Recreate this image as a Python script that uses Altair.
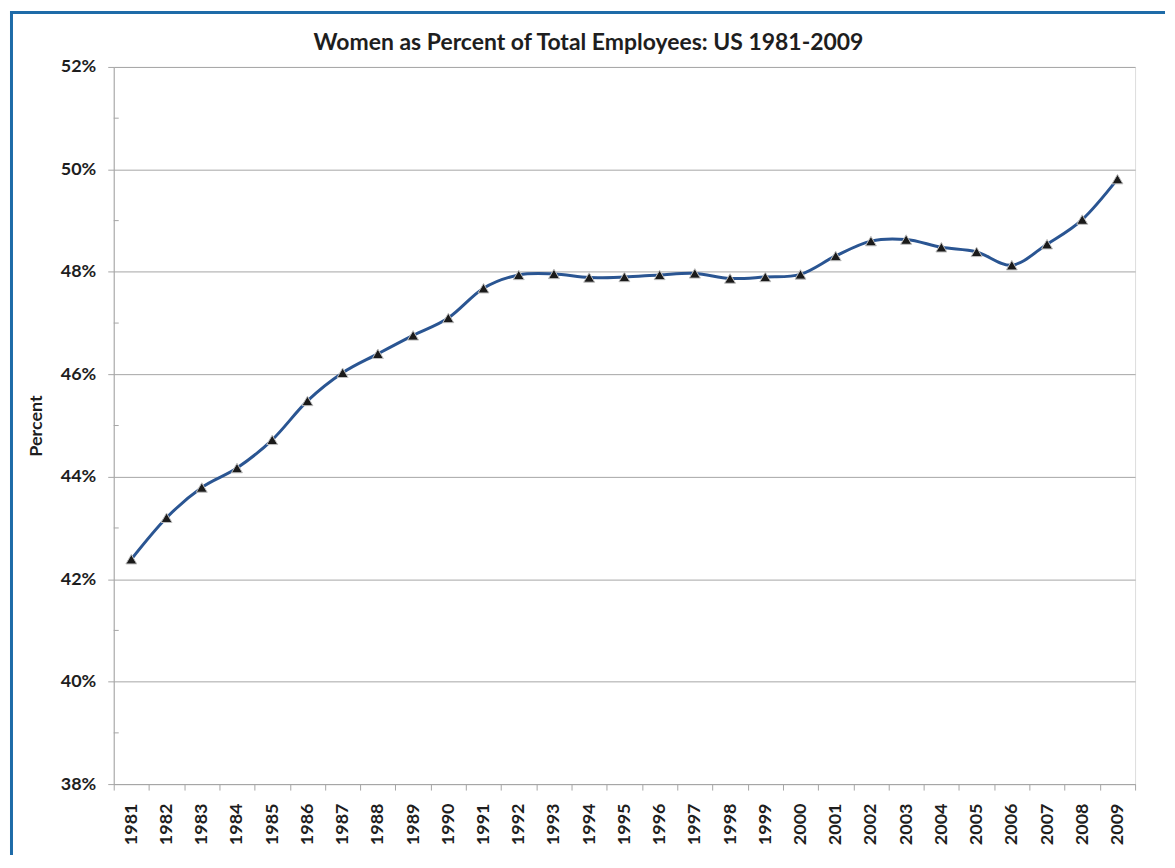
import altair as alt
import pandas as pd

years = [str(y) for y in range(1981, 2010)]
women_pct = [42.39, 43.20, 43.79, 44.17, 44.72, 45.48, 46.03, 46.40, 46.76, 47.10,
             47.68, 47.94, 47.96, 47.89, 47.90, 47.94, 47.97, 47.87, 47.90, 47.95,
             48.31, 48.60, 48.63, 48.48, 48.39, 48.13, 48.54, 49.02, 49.81]
major_ticks = [38, 40, 42, 44, 46, 48, 50, 52]
minor_ticks = [39, 41, 43, 45, 47, 49, 51]
title_text = "Women as Percent of Total Employees: US 1981-2009"
y_title = "Percent"

FONT = "Lato"
GREY = "#A6A6A6"
TEXT = "#1E1E1E"
BORDER = "#1E6BA8"

df = pd.DataFrame({"Year": years, "Share": [v / 100 for v in women_pct]})
minor_df = pd.DataFrame({"m": [v / 100 for v in minor_ticks]})
one = pd.DataFrame({"a": [0]})

x_enc = alt.X(
    "Year:O",
    scale=alt.Scale(type="band", paddingInner=0, paddingOuter=0),
    axis=alt.Axis(
        title=None, labelAngle=-90, labelFont=FONT, labelFontWeight="bold",
        labelFontSize=18, labelColor=TEXT, tickBand="extent", tickSize=6,
        tickColor=GREY, domainColor=GREY, labelPadding=13, grid=False,
    ),
)
y_scale = alt.Scale(domain=[0.38, 0.52], nice=False, zero=False)
y_enc = alt.Y(
    "Share:Q",
    scale=y_scale,
    axis=alt.Axis(
        values=[v / 100 for v in major_ticks], format=".0%", title=y_title,
        titleFont=FONT, titleFontSize=18, titleFontWeight="bold", titleColor=TEXT,
        titlePadding=15, labelFont=FONT, labelFontSize=18, labelFontWeight="bold",
        labelColor=TEXT, labelPadding=12, tickSize=6, tickColor=GREY,
        domainColor=GREY, grid=True, gridColor=GREY, gridWidth=1,
    ),
)

base = alt.Chart(df)
line = base.mark_line(interpolate="cardinal", color="#2A5592", strokeWidth=3).encode(x=x_enc, y=y_enc)
pts = base.mark_point(shape="triangle-up", filled=True, size=120, fill="#1A1A1A",
                      stroke="#BFBFBF", strokeWidth=1, opacity=1).encode(x=x_enc, y=y_enc)
minor = alt.Chart(minor_df).mark_rule(color=GREY, strokeWidth=1).encode(
    y=alt.Y("m:Q", scale=y_scale), x=alt.value(0), x2=alt.value(5))

title = alt.Chart(one).mark_text(
    text=title_text, font=FONT, fontSize=23, fontWeight="bold", color=TEXT,
    align="center", baseline="alphabetic").encode(x=alt.value(476), y=alt.value(-17))

top_border = alt.Chart(one).mark_rule(color=BORDER, strokeWidth=3).encode(
    x=alt.value(-104), x2=alt.value(1054), y=alt.value(-54.5))
left_border = alt.Chart(one).mark_rule(color=BORDER, strokeWidth=3).encode(
    x=alt.value(-102.5), y=alt.value(-56), y2=alt.value(790))

chart = alt.layer(minor, line, pts, title, top_border, left_border).properties(
    width=1024, height=719, padding=0,
    autosize=alt.AutoSizeParams(type="pad"),
).configure_view(stroke=None).configure(background="white")

chart.save("out.html", embed_options={"renderer": "svg", "actions": False})
